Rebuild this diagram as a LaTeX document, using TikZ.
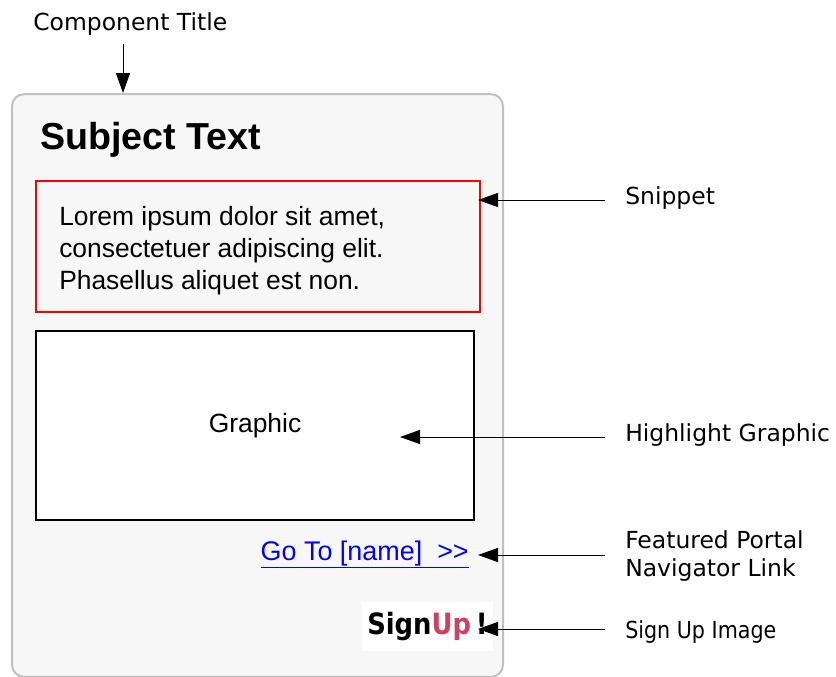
\documentclass[tikz,border=0pt]{standalone}
\usepackage{fontspec}
\setmainfont{Liberation Sans}
\newfontfamily\notefont{DejaVu Sans}
\newfontfamily\narrownote[FakeStretch=0.88]{DejaVu Sans}
\usetikzlibrary{arrows.meta,positioning}

\definecolor{cardbg}{HTML}{F7F7F7}
\definecolor{cardline}{HTML}{C0C0C0}
\definecolor{linkblue}{HTML}{0000FF}
\definecolor{upred}{HTML}{D04060}

\begin{document}
\begin{tikzpicture}[x=0.75pt,y=-0.75pt,>={Triangle[length=15pt,width=10.5pt]},
    note/.style={font=\notefont\fontsize{17.6}{21}\selectfont,anchor=base west,inner sep=0pt,align=left},
    body/.style={font=\fontsize{19.8}{24}\selectfont,inner sep=0pt,align=left},
    pointer/.style={->,line width=0.75pt}]
  \useasboundingbox (0,0) rectangle (836,676);

  % the portlet card and its boxes
  \node[draw=cardline,fill=cardbg,line width=1.5pt,rounded corners=9pt,
        minimum width=368.25pt,minimum height=437pt] (card) at (257.5,385.5) {};
  \node[anchor=base west,inner sep=0pt,font=\bfseries\fontsize{28.2}{32}\selectfont] (subject) at (40,149) {Subject Text};
  \node[draw=red,line width=1.1pt,minimum width=333pt,minimum height=98.25pt] (snippet) at (258,246.5) {};
  \node[body,anchor=west] (snippettext) at (59,251) {Lorem ipsum dolor sit amet,\\consectetuer adipiscing elit.\\Phasellus aliquet est non.};
  \node[draw=black,fill=white,line width=1.5pt,minimum width=328.5pt,minimum height=141.75pt] (graphic) at (255,425.5) {};
  \node[body] (graphictext) at (255,426) {Graphic};
  \node[body,anchor=base east,text=linkblue,font=\fontsize{20.2}{24}\selectfont] (link) at (469,560)
    {\underline{Go To [name]\ \ {>}{>}}};
  \node[fill=white,inner sep=0pt,minimum width=98.25pt,minimum height=36.75pt] (signup) at (427.5,626.5)
    {\narrownote\bfseries\fontsize{22}{24}\selectfont Sign\textcolor{upred}{Up}\,!};

  % callout labels
  \node[note] (titlelbl) at (33,30) {Component Title};
  \node[note] (snippetlbl) at (625,204) {Snippet};
  \node[note] (graphiclbl) at (625,441) {Highlight Graphic};
  \node[note,anchor=north west] (linklbl) at (625,530) {Featured Portal\\Navigator Link};
  \node[note,font=\narrownote\fontsize{17.6}{21}\selectfont] (signuplbl) at (625,638) {Sign Up Image};

  % arrow tips
  \coordinate (titletip) at (123,93);
  \coordinate (snippettip) at (478,200);
  \coordinate (graphictip) at (400,437);
  \coordinate (linktip) at (478,555);
  \coordinate (signuptip) at (478,629);

  \draw[pointer] (titletip |- 0,44) -- (titletip);
  \draw[pointer] ([xshift=-15pt]snippetlbl.west |- snippettip) -- (snippettip);
  \draw[pointer] ([xshift=-15pt]graphiclbl.west |- graphictip) -- (graphictip);
  \draw[pointer] ([xshift=-15pt]linklbl.west |- linktip) -- (linktip);
  \draw[pointer] ([xshift=-15pt]signuplbl.west |- signuptip) -- (signuptip);
\end{tikzpicture}
\end{document}
